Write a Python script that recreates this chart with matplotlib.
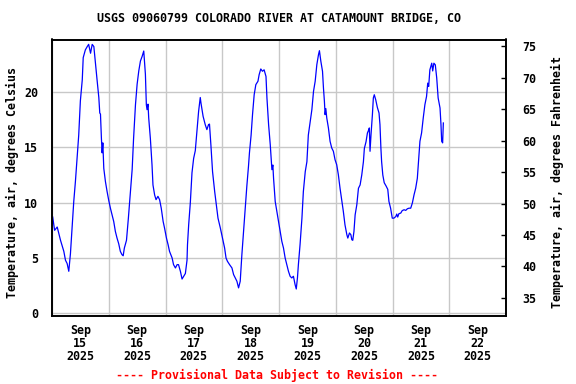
import numpy as np
import pandas as pd
import matplotlib
matplotlib.use('Agg')
import matplotlib.pyplot as plt
import matplotlib.dates as mdates

# hours since 2025-09-15 00:00 and air temperature (deg C)
hours = [0.3, 1.1, 2.2, 3.6, 5.0, 5.7, 6.4, 7.1, 7.8, 8.5, 9.2, 9.9, 10.6, 11.3,
         12.0, 12.8, 13.2, 14.1, 14.9, 15.5, 16.3, 17.0, 17.7, 18.4, 19.1, 19.8,
         20.2, 20.5, 20.9, 21.2, 21.5, 21.9, 22.6, 23.3, 24.0, 24.7, 25.4, 26.1,
         26.8, 27.5, 28.2, 28.9, 29.6, 30.1, 30.6, 31.5, 32.3, 33.0, 33.9, 34.5,
         35.3, 36.0, 36.7, 37.4, 38.1, 38.8, 39.5, 39.9, 40.2, 40.6, 40.9, 41.6,
         42.3, 42.7, 43.4, 44.0, 44.8, 45.5, 46.2, 47.0, 47.6, 48.4, 49.1, 49.7,
         50.8, 51.4, 52.2, 52.9, 53.5, 54.3, 55.0, 55.7, 56.4, 57.1, 57.3, 57.8,
         58.5, 59.2, 59.9, 60.6, 61.3, 62.0, 62.7, 63.0, 63.9, 64.8, 65.5, 66.2,
         66.6, 67.2, 67.9, 68.8, 69.5, 70.2, 71.2, 72.1, 73.0, 73.6, 74.2, 75.1,
         76.1, 76.8, 77.5, 78.2, 78.9, 79.6, 80.3, 81.0, 81.7, 82.4, 83.1, 83.5,
         84.2, 84.8, 85.5, 86.2, 87.1, 87.6, 88.3, 89.0, 89.7, 90.5, 90.9, 91.6,
         92.3, 92.6, 93.0, 93.4, 93.7, 94.4, 95.1, 95.8, 96.5, 97.2, 97.9, 98.6,
         99.3, 100.0, 100.7, 101.4, 102.1, 102.8, 103.3, 103.8, 104.2, 104.9,
         105.7, 106.3, 107.1, 107.8, 108.4, 109.2, 109.9, 110.6, 111.3, 112.0,
         112.7, 113.1, 113.7, 114.4, 114.8, 115.2, 115.5, 115.8, 116.2, 116.9,
         117.6, 118.3, 119.0, 119.7, 120.4, 121.1, 121.8, 122.6, 123.2, 123.9,
         124.7, 125.1, 125.8, 126.4, 126.8, 127.2, 127.7, 128.2, 128.9, 129.6,
         130.3, 131.0, 131.7, 132.1, 132.8, 133.4, 134.0, 134.2, 134.5, 134.9,
         135.5, 135.9, 136.3, 136.9, 137.6, 138.3, 138.7, 139.1, 139.4, 139.9,
         140.5, 141.3, 142.0, 142.5, 143.2, 143.9, 144.6, 145.4, 145.8, 146.2,
         146.7, 147.5, 148.1, 148.9, 149.6, 150.3, 151.0, 151.7, 152.4, 153.1,
         153.8, 154.5, 154.9, 155.6, 156.3, 157.0, 157.7, 158.4, 158.9, 159.3,
         159.8, 160.6, 161.0, 161.5, 162.1, 162.7, 163.3, 164.1, 164.5, 164.8,
         165.2, 165.5]
temp_c = [8.7, 7.5, 7.8, 6.6, 5.6, 4.8, 4.5, 3.8, 5.4, 7.8, 10.1, 11.9, 14.0, 16.1,
          19.2, 21.1, 23.1, 23.8, 24.1, 24.3, 23.5, 24.3, 24.1, 22.5, 21.0, 19.5,
          18.1, 18.0, 15.8, 14.5, 15.4, 13.1, 11.9, 11.0, 10.2, 9.5, 8.9, 8.3,
          7.4, 6.8, 6.3, 5.6, 5.3, 5.2, 5.9, 6.6, 8.6, 10.5, 13.0, 15.8,
          18.85, 20.7, 21.9, 22.8, 23.2, 23.7, 21.6, 18.85, 18.4, 18.9, 17.65, 15.8,
          13.4, 11.6, 10.7, 10.27, 10.57, 10.27, 9.5, 8.3, 7.7, 6.8, 6.2, 5.6,
          5.0, 4.4, 4.1, 4.4, 4.4, 3.8, 3.1, 3.35, 3.6, 4.8, 6.2, 8.0,
          10.0, 12.7, 14.0, 14.7, 16.5, 18.25, 19.5, 19.0, 17.8, 17.05, 16.6, 17.05,
          17.1, 15.2, 12.8, 11.0, 9.8, 8.6, 7.7, 6.8, 5.9, 5.0, 4.7, 4.4,
          4.1, 3.5, 3.2, 2.9, 2.3, 2.9, 5.3, 7.4, 9.5, 11.5, 13.3, 14.5,
          16.1, 17.95, 19.75, 20.66, 20.97, 21.56, 22.08, 21.87, 22.0, 21.4, 19.46, 17.05,
          15.24, 14.3, 12.98, 13.4, 12.2, 10.1, 9.2, 8.3, 7.4, 6.5, 5.9, 5.0,
          4.4, 3.8, 3.35, 3.2, 3.35, 2.6, 2.2, 3.2, 4.4, 6.2,
          8.6, 11.0, 12.8, 13.7, 16.1, 17.3, 18.4, 20.06, 20.97, 22.47,
          23.37, 23.73, 22.77, 21.87, 20.36, 19.16, 17.95, 18.5, 17.65, 16.75,
          15.54, 14.94, 14.64, 13.88, 13.43, 12.53, 11.32, 10.12, 9.22, 8.0,
          7.1, 6.8, 7.26, 7.1, 6.65, 6.6, 7.4, 8.9, 9.8, 11.3,
          11.6, 12.5, 13.7, 14.9, 15.5, 16.3, 16.6, 16.75, 14.64, 16.1,
          17.95, 19.46, 19.75, 19.3, 18.6, 18.1, 17.05, 14.9, 13.7, 12.5,
          11.8, 11.5, 11.2, 10.1, 9.5, 8.6, 8.6, 8.75, 8.97, 8.7,
          9.0, 9.06, 9.28, 9.36, 9.3, 9.45, 9.5, 9.5, 9.97, 10.7,
          11.3, 12.2, 13.4, 15.54, 16.3, 17.65, 18.85, 19.6, 20.8, 20.5,
          22.0, 22.6, 21.9, 22.6, 22.45, 21.27, 19.46, 18.55, 17.05, 15.54,
          15.4, 17.2]

c_ticks = [0, 5, 10, 15, 20]
f_ticks = [35, 40, 45, 50, 55, 60, 65, 70, 75]

title = 'USGS 09060799 COLORADO RIVER AT CATAMOUNT BRIDGE, CO'
left_label = 'Temperature, air, degrees Celsius'
right_label = 'Temperature, air, degrees Fahrenheit'
footer = '---- Provisional Data Subject to Revision ----'

start = pd.Timestamp('2025-09-15 00:00')
end = pd.Timestamp('2025-09-23 00:00')
times = start + pd.to_timedelta(hours, unit='h')

font = dict(family='DejaVu Sans Mono', weight='bold', size=8.4)

fig = plt.figure(figsize=(5.76, 3.84), dpi=100)
ax = fig.add_axes([52 / 576, 1 - 316 / 384, 454 / 576, 276.5 / 384])

ax.plot(times, temp_c, color='#0000ff', linewidth=0.9)

ax.set_xlim(start, end)
ax.set_ylim(-0.24, 24.74)
ax.set_yticks(c_ticks)

# gridlines at midnight, labels at noon
ax.xaxis.set_major_locator(mdates.DayLocator())
ax.xaxis.set_major_formatter(plt.NullFormatter())
ax.xaxis.set_minor_locator(mdates.HourLocator(byhour=12))
ax.xaxis.set_minor_formatter(mdates.DateFormatter('%b\n%d\n%Y'))
ax.tick_params(axis='x', which='both', length=0, pad=6)
ax.tick_params(axis='y', length=0, pad=10)
ax.grid(True, color='#c8c8c8', linewidth=1.0)
ax.set_axisbelow(True)

for lab in ax.get_xticklabels(minor=True):
    lab.set_fontproperties(font)
    lab.set_linespacing(0.98)
for lab in ax.get_yticklabels():
    lab.set_fontproperties(font)

for s in ax.spines.values():
    s.set_linewidth(1.2)

ax2 = ax.twinx()
ax2.set_ylim(32.09, 76.11)
ax2.set_yticks(f_ticks)
ax2.tick_params(axis='y', direction='in', length=3.5, width=1, pad=12)
for lab in ax2.get_yticklabels():
    lab.set_fontproperties(font)
for s in ax2.spines.values():
    s.set_linewidth(1.2)

fig.text(279 / 576, 1 - 19 / 384, title, ha='center', va='center', **font)
fig.text(12 / 576, 1 - 182 / 384, left_label, rotation=90, ha='center', va='center', **font)
fig.text(557 / 576, 1 - 182 / 384, right_label, rotation=90, ha='center', va='center', **font)
fig.text(277.5 / 576, 1 - 375 / 384, footer, ha='center', va='center', color='#ff0000', **font)

fig.savefig('out.png', dpi=100)
